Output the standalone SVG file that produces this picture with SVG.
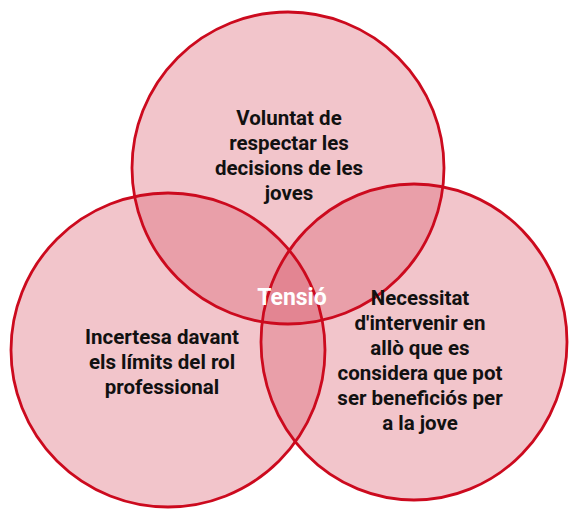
<svg xmlns="http://www.w3.org/2000/svg" width="569" height="509" viewBox="0 0 569 509">
<style>
.fill{fill:#d85466;fill-opacity:0.34;stroke:none}
.ring{fill:none;stroke:#cc0a1e;stroke-width:2.8}
.lbl{font-family:Roboto,"Liberation Sans",sans-serif;font-weight:bold;font-size:20.5px;fill:#111;text-anchor:middle}
.ten{font-family:Roboto,"Liberation Sans",sans-serif;font-weight:bold;font-size:23px;fill:#fff;text-anchor:middle}
</style>
<rect width="569" height="509" fill="#fff"/>
<g id="fills">
<circle class="fill" cx="288" cy="168" r="156"/>
<circle class="fill" cx="168" cy="350" r="157"/>
<ellipse class="fill" cx="414" cy="342" rx="153" ry="158"/>
</g>
<g id="node-top">
<circle class="ring" cx="288" cy="168" r="156"/>
</g>
<g id="node-left">
<circle class="ring" cx="168" cy="350" r="157"/>
</g>
<g id="node-right">
<ellipse class="ring" cx="414" cy="342" rx="153" ry="158"/>
</g>
<g id="labels">
<text class="lbl" x="289" y="125">Voluntat de</text>
<text class="lbl" x="289" y="150">respectar les</text>
<text class="lbl" x="289" y="175">decisions de les</text>
<text class="lbl" x="289" y="200">joves</text>
<text class="lbl" x="162" y="344">Incertesa davant</text>
<text class="lbl" x="162" y="369">els límits del rol</text>
<text class="lbl" x="162" y="394">professional</text>
<text class="lbl" x="420" y="305">Necessitat</text>
<text class="lbl" x="420" y="330">d'intervenir en</text>
<text class="lbl" x="420" y="355">allò que es</text>
<text class="lbl" x="420" y="380">considera que pot</text>
<text class="lbl" x="420" y="405">ser beneficiós per</text>
<text class="lbl" x="420" y="430">a la jove</text>
</g>
<g id="node-center">
<text class="ten" x="292" y="305">Tensió</text>
</g>
<g id="connectors"></g>
</svg>
